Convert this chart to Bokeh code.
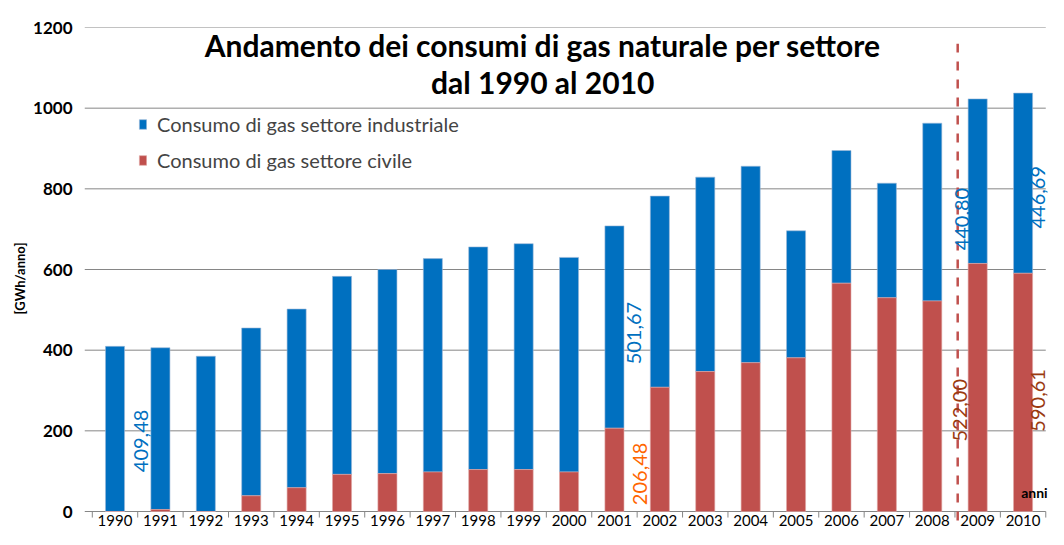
import math
from bokeh.plotting import figure
from bokeh.models import Range1d, FixedTicker, Legend, LegendItem, ColumnDataSource
from bokeh.core.properties import value
from bokeh.embed import file_html
from bokeh.resources import INLINE

# ---------------- data ----------------
years = list(range(1990, 2011))
industriale = [409.48, 401, 385, 416, 443, 491, 506, 529, 552, 560, 532,
               501.67, 474, 482, 487, 315, 329, 284, 440.80, 408, 446.69]
civile = [0, 5, 0, 39, 59, 92, 94, 98, 104, 104, 98,
          206.48, 308, 347, 369, 381, 566, 530, 522.00, 615, 590.61]
year_labels = [str(y) for y in years]
y_ticks = [0, 200, 400, 600, 800, 1000, 1200]

# annotated values: (year, series)
ann_years = [1990, 2001, 2001, 2008, 2008, 2010, 2010]
ann_series = ["ind", "ind", "civ", "civ", "ind", "ind", "civ"]

title_lines = ["Andamento dei consumi di gas naturale per settore", "dal 1990 al 2010"]
legend_labels = ["Consumo di gas settore industriale", "Consumo di gas settore civile"]
y_label = "[GWh/anno]"
x_label = "anni"

# ---------------- layout / style ----------------
ann_dx = [0.58, 0.44, 0.57, 0.62, 0.66, 0.32, 0.32]   # horizontal shift from bar centre (years)
ann_dy = [12, 6, 4, 4, 7, 14, 8]                      # screen px downward from segment middle

BLUE = "#0070C0"
RED = "#C0504D"
ORANGE = "#FF6600"
BROWN = "#9A3A10"
GRID = "#868686"
FONT = "Lato"

x_start = years[0] - 0.672
x_end = years[-1] + 0.56
p = figure(width=1048, height=529, output_backend="svg", toolbar_location=None,
           x_axis_type=None,
           x_range=Range1d(x_start, x_end),
           y_range=Range1d(-44.6, 1200),
           min_border_left=84, min_border_right=0, min_border_top=27, min_border_bottom=0)
p.outline_line_color = None
p.ygrid.grid_line_color = None
p.background_fill_color = "white"
p.border_fill_color = "white"

yax = p.yaxis[0]
yax.ticker = FixedTicker(ticks=y_ticks)
yax.axis_line_color = None
yax.major_tick_line_color = None
yax.minor_tick_line_color = None
yax.major_tick_out = 0
yax.major_tick_in = 0
yax.major_label_standoff = 12
yax.major_label_text_font = FONT
yax.major_label_text_font_style = "bold"
yax.major_label_text_font_size = "17px"
yax.major_label_text_color = "black"
yax.axis_label = y_label
yax.axis_label_text_font = FONT
yax.axis_label_text_font_style = "bold"
yax.axis_label_text_font_size = "13px"
yax.axis_label_standoff = 2
yax.axis_label_text_color = "black"

x_right = years[-1] + 0.5

# gridlines and baseline
p.segment(x0=[x_start] * len(y_ticks), x1=[x_right] * len(y_ticks), y0=y_ticks, y1=y_ticks,
          line_color=GRID, line_width=1)
# category tick marks
bounds = [y - 0.5 for y in years] + [years[-1] + 0.5]
p.segment(x0=bounds, x1=bounds, y0=[0] * len(bounds), y1=[-15] * len(bounds),
          line_color=GRID, line_width=1)

tops = [c + i for c, i in zip(civile, industriale)]
src = ColumnDataSource(dict(x=years, civ=civile, ind=industriale, top=tops, lab=year_labels))
r_ind = p.vbar(x="x", bottom="civ", top="top", width=0.42, fill_color=BLUE,
               line_color="#9DB8D9", line_width=0.6, source=src)
r_civ = p.vbar(x="x", bottom=0, top="civ", width=0.42, fill_color=RED,
               line_color="#E0A8A6", line_width=0.6, source=src)

# year labels
p.text(x="x", y=-8, text="lab", source=src, text_align="center", text_baseline="top",
       text_font=value(FONT), text_font_size="15px", text_color="black")

# dashed separator between 2008 and 2009
sep_x = years[-3] + 0.56
p.segment(x0=[sep_x], x1=[sep_x], y0=[-22], y1=[1160], line_color=RED, line_width=2.5,
          line_dash="9 9")

# value annotations
ax, ay, at, ac = [], [], [], []
for yr, s, dx in zip(ann_years, ann_series, ann_dx):
    k = years.index(yr)
    if s == "ind":
        v = industriale[k]
        mid = civile[k] + v / 2
        col = BLUE
    else:
        v = civile[k]
        mid = v / 2
        col = ORANGE if yr < 2005 else BROWN
    ax.append(yr + dx)
    ay.append(mid)
    at.append(f"{v:.2f}".replace(".", ","))
    ac.append(col)
p.text(x=ax, y=ay, text=at, text_color=ac, angle=math.pi / 2, text_align="center",
       text_baseline="middle", text_font=value(FONT), text_font_size="20px",
       y_offset=ann_dy)

# x axis name
p.text(x=[x_end - 0.02], y=[47], text=[x_label], text_align="right", text_baseline="middle",
       text_font=value(FONT), text_font_style="bold", text_font_size="14px", text_color="black")

# title
mid_x = 1999.42
p.text(x=[mid_x, mid_x], y=[1155.5, 1063.7], text=title_lines, text_align="center",
       text_baseline="middle", text_font=value(FONT), text_font_style="bold",
       text_font_size="30px", text_color="black")

legend = Legend(items=[LegendItem(label=legend_labels[0], renderers=[r_ind]),
                       LegendItem(label=legend_labels[1], renderers=[r_civ])],
                location=(54, 357), padding=0, spacing=12, label_height=20,
                glyph_width=9, glyph_height=12, label_standoff=10,
                label_text_font=FONT, label_text_font_size="20px",
                border_line_color=None, background_fill_alpha=0)
p.add_layout(legend, "center")

open("out.html", "w").write(file_html(p, INLINE))
